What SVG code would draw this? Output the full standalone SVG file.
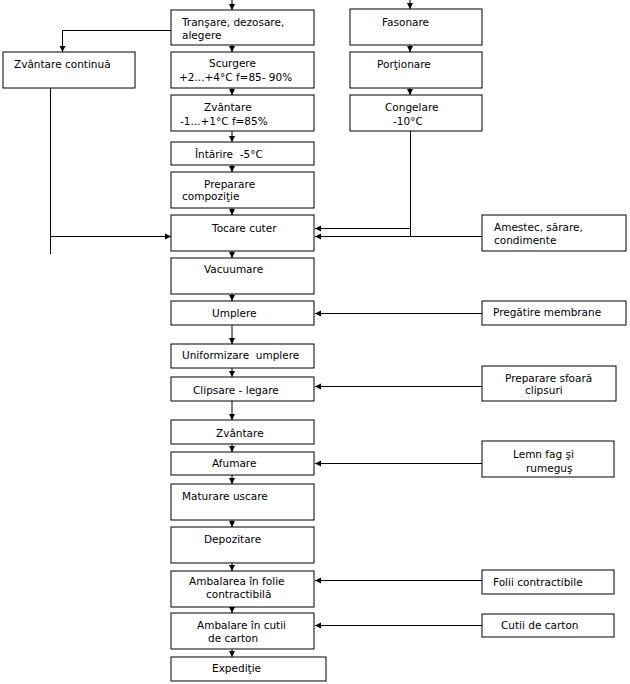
<svg xmlns="http://www.w3.org/2000/svg" width="630" height="684" viewBox="0 0 630 684">
<style>
.b{fill:#fff;stroke:#000;stroke-width:1}
text{font-family:"DejaVu Sans","Liberation Sans",sans-serif;font-size:10.5px;fill:#000;white-space:pre}
.c line,.c path{stroke:#000;stroke-width:1;fill:none}
</style>
<defs>
<marker id="a" markerUnits="userSpaceOnUse" markerWidth="7" markerHeight="7" refX="6" refY="3.5" orient="auto"><path d="M0,0.5 L6,3.5 L0,6.5 z" fill="#000"/></marker>
</defs>
<rect width="630" height="684" fill="#fff"/>
<g class="c">
<line x1="232" y1="0" x2="232" y2="10" marker-end="url(#a)"/>
<line x1="410" y1="0" x2="410" y2="9" marker-end="url(#a)"/>
<path d="M171,30.5 H62.5 V52" marker-end="url(#a)"/>
<line x1="232" y1="45" x2="232" y2="52" marker-end="url(#a)"/>
<line x1="232" y1="88" x2="232" y2="95" marker-end="url(#a)"/>
<line x1="232" y1="131" x2="232" y2="142" marker-end="url(#a)"/>
<line x1="232" y1="165" x2="232" y2="172" marker-end="url(#a)"/>
<line x1="232" y1="208" x2="232" y2="215" marker-end="url(#a)"/>
<line x1="232" y1="251" x2="232" y2="258" marker-end="url(#a)"/>
<line x1="232" y1="294" x2="232" y2="301" marker-end="url(#a)"/>
<line x1="232" y1="325" x2="232" y2="344" marker-end="url(#a)"/>
<line x1="232" y1="368" x2="232" y2="377" marker-end="url(#a)"/>
<line x1="232" y1="401" x2="232" y2="420" marker-end="url(#a)"/>
<line x1="232" y1="444" x2="232" y2="452" marker-end="url(#a)"/>
<line x1="232" y1="475" x2="232" y2="484" marker-end="url(#a)"/>
<line x1="232" y1="517" x2="232" y2="527" marker-end="url(#a)"/>
<line x1="232" y1="563" x2="232" y2="571" marker-end="url(#a)"/>
<line x1="232" y1="607" x2="232" y2="613" marker-end="url(#a)"/>
<line x1="232" y1="649" x2="232" y2="657" marker-end="url(#a)"/>
<line x1="410" y1="45" x2="410" y2="52" marker-end="url(#a)"/>
<line x1="410" y1="88" x2="410" y2="95" marker-end="url(#a)"/>
<line x1="50.5" y1="88" x2="50.5" y2="254"/>
<line x1="50" y1="236.5" x2="171" y2="236.5" marker-end="url(#a)"/>
<path d="M410.5,131 V236.5"/>
<line x1="410.5" y1="228.5" x2="315" y2="228.5" marker-end="url(#a)"/>
<line x1="482" y1="236.5" x2="315" y2="236.5" marker-end="url(#a)"/>
<line x1="482" y1="313.5" x2="315" y2="313.5" marker-end="url(#a)"/>
<line x1="482" y1="386.5" x2="315" y2="386.5" marker-end="url(#a)"/>
<line x1="482" y1="463.5" x2="315" y2="463.5" marker-end="url(#a)"/>
<line x1="482" y1="580.5" x2="315" y2="580.5" marker-end="url(#a)"/>
<line x1="482" y1="625.5" x2="315" y2="625.5" marker-end="url(#a)"/>
</g>
<g id="n1"><rect class="b" x="171" y="10" width="143" height="35"/><text x="182" y="26">Tranşare, dezosare,</text><text x="182" y="39">alegere</text></g>
<g id="n2"><rect class="b" x="171" y="52" width="143" height="36"/><text x="209" y="67">Scurgere</text><text x="179" y="81">+2...+4°C f=85- 90%</text></g>
<g id="n3"><rect class="b" x="171" y="95" width="143" height="36"/><text x="204" y="111">Zvântare</text><text x="180" y="125">-1...+1°C f=85%</text></g>
<g id="n4"><rect class="b" x="171" y="142" width="143" height="23"/><text x="195" y="158" xml:space="preserve">Întărire  -5°C</text></g>
<g id="n5"><rect class="b" x="171" y="172" width="143" height="36"/><text x="204" y="188">Preparare</text><text x="182" y="200">compoziţie</text></g>
<g id="n6"><rect class="b" x="171" y="215" width="143" height="36"/><text x="212" y="232">Tocare cuter</text></g>
<g id="n7"><rect class="b" x="171" y="258" width="143" height="36"/><text x="204" y="273">Vacuumare</text></g>
<g id="n8"><rect class="b" x="171" y="301" width="143" height="24"/><text x="212" y="317">Umplere</text></g>
<g id="n9"><rect class="b" x="171" y="344" width="143" height="24"/><text x="182" y="359" xml:space="preserve">Uniformizare  umplere</text></g>
<g id="n10"><rect class="b" x="171" y="377" width="143" height="24"/><text x="193" y="394">Clipsare - legare</text></g>
<g id="n11"><rect class="b" x="171" y="420" width="143" height="24"/><text x="216" y="437">Zvântare</text></g>
<g id="n12"><rect class="b" x="171" y="452" width="143" height="23"/><text x="212" y="467">Afumare</text></g>
<g id="n13"><rect class="b" x="171" y="484" width="143" height="36"/><text x="182" y="500">Maturare uscare</text></g>
<g id="n14"><rect class="b" x="171" y="527" width="143" height="36"/><text x="204" y="543">Depozitare</text></g>
<g id="n15"><rect class="b" x="171" y="571" width="143" height="36"/><text x="189" y="585">Ambalarea în folie</text><text x="206" y="598">contractibilă</text></g>
<g id="n16"><rect class="b" x="171" y="613" width="143" height="36"/><text x="197" y="629">Ambalare în cutii</text><text x="208" y="642">de carton</text></g>
<g id="n17"><rect class="b" x="171" y="657" width="155" height="24"/><text x="212" y="672">Expediţie</text></g>
<g id="n18"><rect class="b" x="3" y="52" width="132" height="36"/><text x="14" y="68">Zvântare continuă</text></g>
<g id="n19"><rect class="b" x="350" y="9" width="132" height="36"/><text x="382" y="26">Fasonare</text></g>
<g id="n20"><rect class="b" x="350" y="52" width="132" height="36"/><text x="377" y="68">Porţionare</text></g>
<g id="n21"><rect class="b" x="350" y="95" width="132" height="36"/><text x="385" y="111">Congelare</text><text x="393" y="125">-10°C</text></g>
<g id="n22"><rect class="b" x="482" y="215" width="144" height="36"/><text x="494" y="231">Amestec, sărare,</text><text x="494" y="244">condimente</text></g>
<g id="n23"><rect class="b" x="482" y="301" width="144" height="24"/><text x="493" y="316">Pregătire membrane</text></g>
<g id="n24"><rect class="b" x="482" y="366" width="134" height="35"/><text x="505" y="382">Preparare sfoară</text><text x="525" y="394">clipsuri</text></g>
<g id="n25"><rect class="b" x="482" y="441" width="132" height="36"/><text x="513" y="458">Lemn fag şi</text><text x="526" y="472">rumeguş</text></g>
<g id="n26"><rect class="b" x="482" y="570" width="132" height="24"/><text x="493" y="586">Folii contractibile</text></g>
<g id="n27"><rect class="b" x="482" y="614" width="132" height="23"/><text x="501" y="629">Cutii de carton</text></g>
</svg>
